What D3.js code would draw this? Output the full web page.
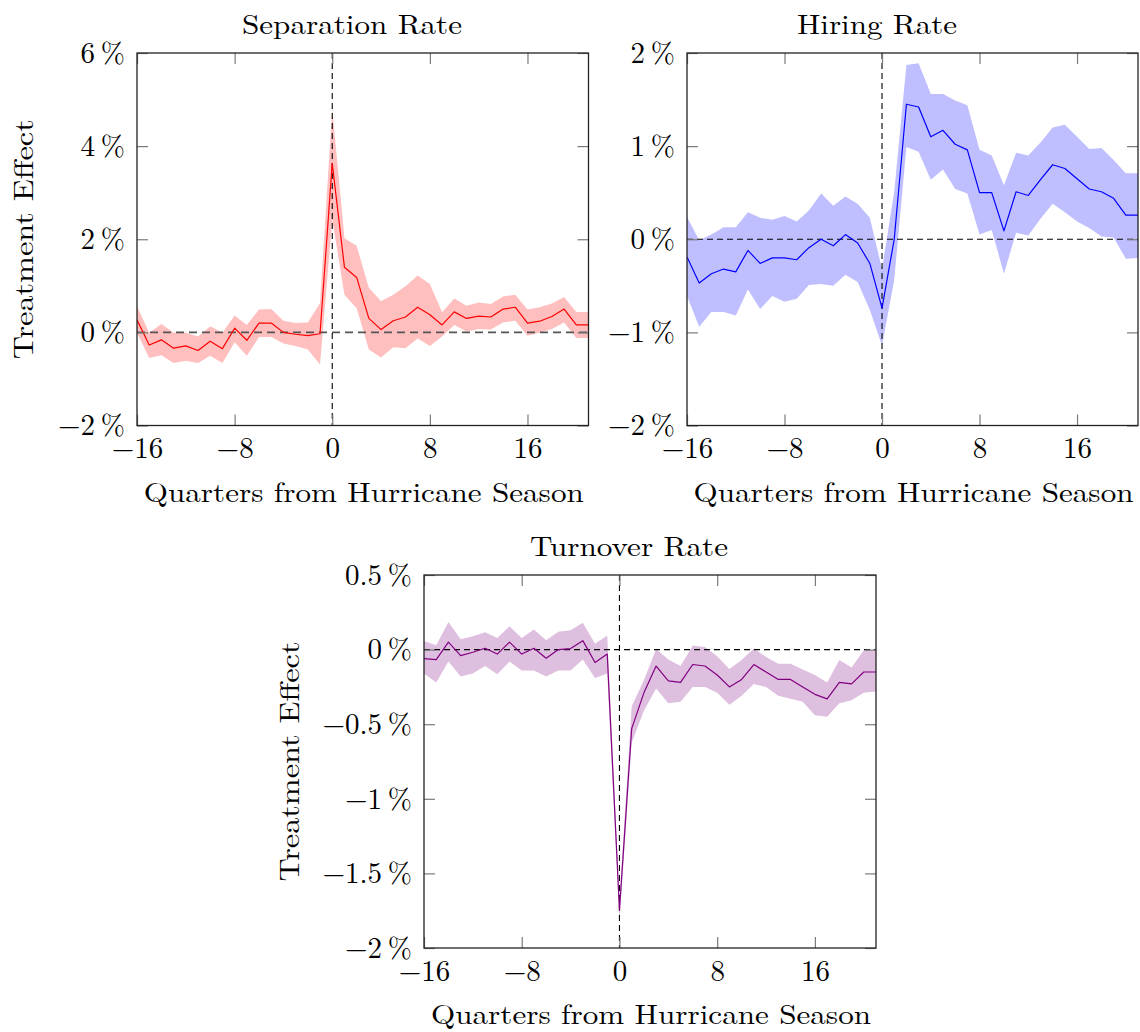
<!DOCTYPE html>
<html>
<head>
<meta charset="utf-8">
<script src="https://cdn.jsdelivr.net/npm/d3@7"></script>
<style>
  html, body { margin: 0; padding: 0; background: #fff; }
  svg text { font-family: "Latin Modern Roman", "CMU Serif", "Liberation Serif", serif; fill: #000; }
</style>
</head>
<body>
<svg id="chart" width="1140" height="1032"></svg>
<script>
// ---------- data (values in percent) ----------
const quarters = d3.range(-16, 22); // -16 .. 21

const sepEst = [0.27,-0.27,-0.16,-0.34,-0.29,-0.39,-0.19,-0.35,0.09,-0.17,0.20,0.20,0.0,-0.04,-0.07,-0.03,
  3.63,1.40,1.18,0.30,
  0.06,0.25,0.33,0.54,0.38,0.16,0.44,0.30,0.35,0.33,0.50,0.54,0.20,0.24,0.34,0.50,0.16,0.16];
const sepHi = [0.56,-0.01,0.18,-0.01,-0.01,-0.09,0.13,-0.01,0.36,0.16,0.49,0.50,0.25,0.20,0.21,0.63,
  4.81,2.02,1.86,0.96,
  0.67,0.81,0.99,1.22,1.04,0.43,0.73,0.57,0.64,0.61,0.77,0.81,0.49,0.54,0.62,0.76,0.44,0.44];
const sepLo = [-0.01,-0.55,-0.49,-0.66,-0.61,-0.66,-0.50,-0.66,-0.21,-0.50,-0.10,-0.10,-0.24,-0.29,-0.37,-0.69,
  2.42,0.81,0.52,-0.37,
  -0.54,-0.32,-0.34,-0.13,-0.29,-0.09,0.16,0.02,0.07,0.06,0.21,0.25,-0.07,-0.01,0.07,0.21,-0.12,-0.12];

const hirEst = [-0.19,-0.47,-0.37,-0.32,-0.35,-0.12,-0.26,-0.20,-0.20,-0.22,-0.09,0.0,-0.07,0.05,-0.04,-0.26,
  -0.74,0.0,1.45,
  1.42,1.10,1.17,1.02,0.96,0.50,0.50,0.09,0.51,0.47,0.64,0.80,0.76,0.65,0.54,0.51,0.44,0.26,0.26];
const hirHi = [0.24,-0.01,0.05,0.13,0.13,0.29,0.23,0.21,0.25,0.19,0.31,0.49,0.36,0.46,0.38,0.23,
  -0.32,0.51,1.87,
  1.89,1.56,1.56,1.49,1.44,0.96,0.90,0.58,0.93,0.90,1.04,1.20,1.23,1.10,0.97,0.98,0.85,0.71,0.71];
const hirLo = [-0.61,-0.94,-0.78,-0.78,-0.82,-0.54,-0.75,-0.61,-0.67,-0.64,-0.49,-0.48,-0.50,-0.38,-0.46,-0.76,
  -1.14,-0.44,0.99,
  0.94,0.64,0.75,0.54,0.49,0.05,0.10,-0.37,0.07,0.04,0.22,0.38,0.29,0.19,0.12,0.03,0.02,-0.21,-0.20];

const turEst = [-0.06,-0.067,0.05,-0.04,-0.018,0.009,-0.03,0.05,-0.03,0.009,-0.058,0.0,0.007,0.06,-0.087,-0.03,
  -1.745,-0.53,-0.29,
  -0.11,-0.21,-0.22,-0.10,-0.11,-0.17,-0.25,-0.20,-0.10,-0.15,-0.20,-0.20,-0.25,-0.30,-0.33,-0.22,-0.23,-0.15,-0.15];
const turHi = [0.058,0.029,0.185,0.069,0.089,0.116,0.078,0.156,0.078,0.134,0.0625,0.12,0.13,0.18,0.04,0.094,
  -1.68,-0.38,-0.205,
  0.004,-0.067,-0.11,0.027,0.018,-0.045,-0.13,-0.07,0.007,-0.05,-0.094,-0.094,-0.134,-0.17,-0.22,-0.07,-0.12,-0.004,-0.004];
const turLo = [-0.16,-0.22,-0.08,-0.18,-0.16,-0.11,-0.165,-0.08,-0.14,-0.14,-0.18,-0.14,-0.14,-0.067,-0.19,-0.16,
  -1.82,-0.625,-0.41,
  -0.26,-0.36,-0.35,-0.25,-0.25,-0.29,-0.37,-0.31,-0.23,-0.25,-0.31,-0.33,-0.35,-0.44,-0.45,-0.36,-0.34,-0.29,-0.28];

const xTicks = [-16, -8, 0, 8, 16];
const sepYTicks = [-2, 0, 2, 4, 6];
const hirYTicks = [-2, -1, 0, 1, 2];
const turYTicks = [-2, -1.5, -1, -0.5, 0, 0.5];

const titles = ["Separation Rate", "Hiring Rate", "Turnover Rate"];
const xLabel = "Quarters from Hurricane Season";
const yLabel = "Treatment Effect";

// ---------- drawing ----------
const svg = d3.select("#chart");
const FS = 28;
const TFS = 29;
const fmtPct = d => (d < 0 ? "\u2212" : "") + Math.abs(d) + "\u2009%";

function panel(cfg) {
  const x = d3.scaleLinear().domain([-16, 21]).range([cfg.x0, cfg.x1]);
  const y = d3.scaleLinear().domain(cfg.yDomain).range([cfg.y1, cfg.y0]);
  const g = svg.append("g");
  const rows = quarters.map((q, i) => ({q, est: cfg.est[i], lo: cfg.lo[i], hi: cfg.hi[i]}));

  const cid = "clip" + cfg.id;
  svg.append("clipPath").attr("id", cid).append("rect")
    .attr("x", cfg.x0).attr("y", cfg.y0).attr("width", cfg.x1 - cfg.x0).attr("height", cfg.y1 - cfg.y0);
  const pg = g.append("g").attr("clip-path", `url(#${cid})`);

  // confidence band
  pg.append("path").datum(rows)
    .attr("d", d3.area().x(d => x(d.q)).y0(d => y(d.lo)).y1(d => y(d.hi)))
    .attr("fill", cfg.band).attr("stroke", "none");

  // reference lines
  pg.append("line").attr("x1", cfg.x0).attr("x2", cfg.x1).attr("y1", y(0)).attr("y2", y(0))
    .attr("stroke", cfg.hColor).attr("stroke-width", cfg.hWidth).attr("stroke-dasharray", cfg.hDash);
  pg.append("line").attr("x1", x(0)).attr("x2", x(0)).attr("y1", cfg.y0).attr("y2", cfg.y1)
    .attr("stroke", "#000").attr("stroke-width", 1.1).attr("stroke-dasharray", "6,4");

  // estimate line
  pg.append("path").datum(rows)
    .attr("d", d3.line().x(d => x(d.q)).y(d => y(d.est)))
    .attr("fill", "none").attr("stroke", cfg.color).attr("stroke-width", 1.2).attr("stroke-linejoin", "round");

  const tickStyle = sel => {
    sel.select(".domain").remove();
    sel.selectAll(".tick line").attr("stroke", "#7a7a7a").attr("stroke-width", 1.2);
    sel.selectAll(".tick text").attr("font-size", TFS).attr("font-family", null);
  };
  g.append("g").attr("transform", `translate(0,${cfg.y1})`)
    .call(d3.axisBottom(x).tickValues(xTicks).tickSize(-11).tickPadding(12)
      .tickFormat(d => (d < 0 ? "\u2212" : "") + Math.abs(d)))
    .call(tickStyle);
  g.append("g").attr("transform", `translate(0,${cfg.y0})`)
    .call(d3.axisTop(x).tickValues(xTicks).tickSize(-11).tickFormat(""))
    .call(tickStyle);
  g.append("g").attr("transform", `translate(${cfg.x0},0)`)
    .call(d3.axisLeft(y).tickValues(cfg.yTicks).tickSize(-11).tickPadding(12).tickFormat(fmtPct))
    .call(tickStyle);
  g.append("g").attr("transform", `translate(${cfg.x1},0)`)
    .call(d3.axisRight(y).tickValues(cfg.yTicks).tickSize(-11).tickFormat(""))
    .call(tickStyle);

  g.append("rect").attr("x", cfg.x0).attr("y", cfg.y0)
    .attr("width", cfg.x1 - cfg.x0).attr("height", cfg.y1 - cfg.y0)
    .attr("fill", "none").attr("stroke", "#222").attr("stroke-width", 1.3);

  g.append("text").attr("x", cfg.titleX).attr("y", cfg.y0 - 19)
    .attr("text-anchor", "middle").attr("font-size", FS)
    .attr("textLength", cfg.titleW).attr("lengthAdjust", "spacingAndGlyphs")
    .text(cfg.title);
  g.append("text").attr("x", (cfg.x0 + cfg.x1) / 2 + 1).attr("y", cfg.y1 + 76)
    .attr("text-anchor", "middle").attr("font-size", FS)
    .attr("textLength", 440).attr("lengthAdjust", "spacingAndGlyphs")
    .text(xLabel);
  if (cfg.yLabelX) {
    const cy = (cfg.y0 + cfg.y1) / 2;
    g.append("text").attr("transform", `translate(${cfg.yLabelX},${cy}) rotate(-90)`)
      .attr("text-anchor", "middle").attr("font-size", FS)
      .attr("textLength", 240).attr("lengthAdjust", "spacingAndGlyphs")
      .text(yLabel);
  }
}

panel({id: 1, x0: 137, x1: 588.5, y0: 53, y1: 425.5, yDomain: [-2, 6], yTicks: sepYTicks,
  est: sepEst, lo: sepLo, hi: sepHi, color: "#ff0000", band: "#ffbfbf",
  hColor: "#555", hWidth: 1.8, hDash: "8,5",
  title: titles[0], titleX: 352, titleW: 220, yLabelX: 33});
panel({id: 2, x0: 687, x1: 1138, y0: 53, y1: 425.5, yDomain: [-2, 2], yTicks: hirYTicks,
  est: hirEst, lo: hirLo, hi: hirHi, color: "#0000ff", band: "#bfbfff",
  hColor: "#000", hWidth: 1.1, hDash: "6,4",
  title: titles[1], titleX: 877, titleW: 160, yLabelX: null});
panel({id: 3, x0: 424, x1: 876, y0: 575, y1: 948, yDomain: [-2, 0.5], yTicks: turYTicks,
  est: turEst, lo: turLo, hi: turHi, color: "#800080", band: "#dfbfdf",
  hColor: "#000", hWidth: 1.1, hDash: "6,4",
  title: titles[2], titleX: 629, titleW: 198, yLabelX: 299});
</script>
</body>
</html>
